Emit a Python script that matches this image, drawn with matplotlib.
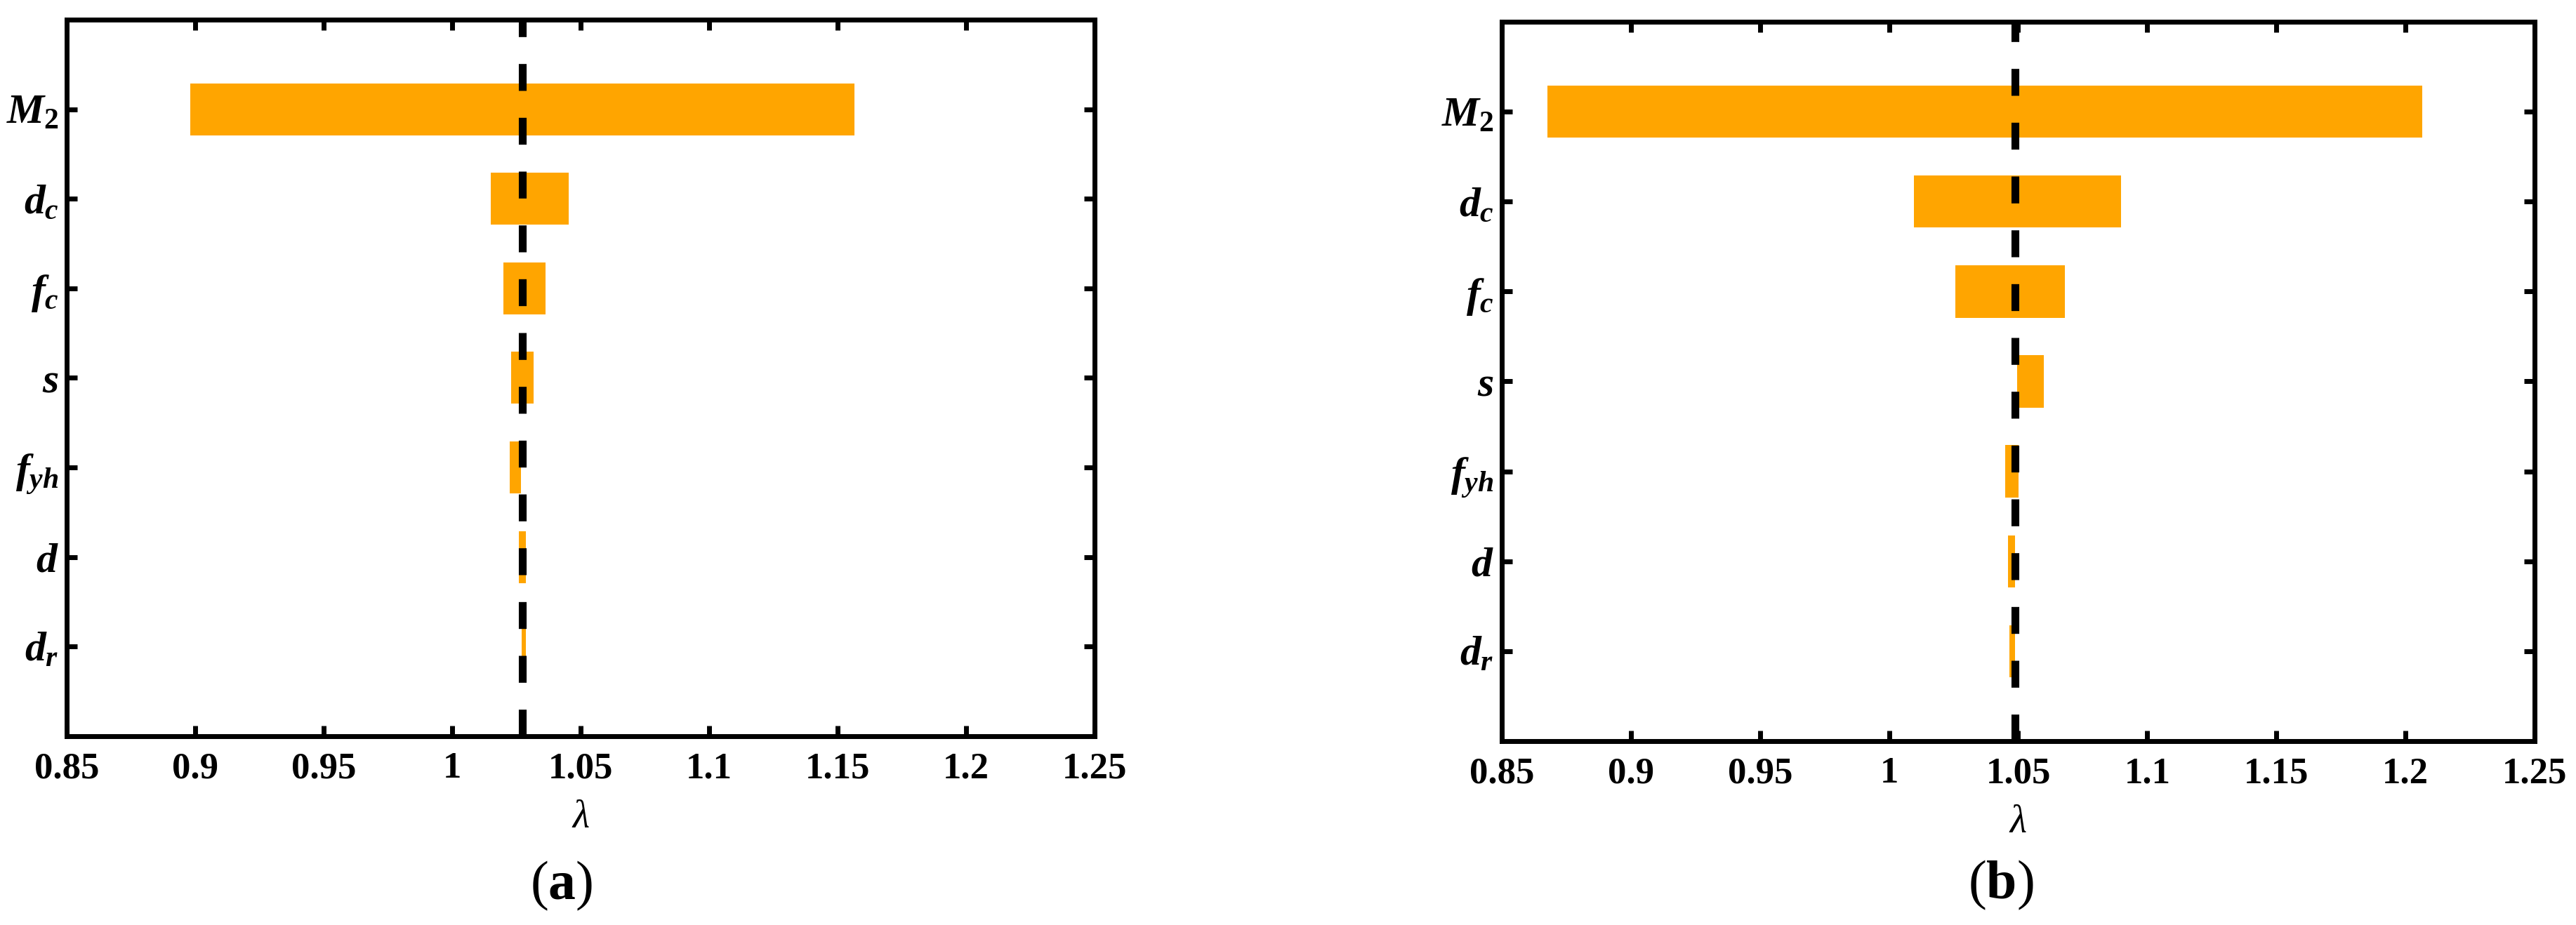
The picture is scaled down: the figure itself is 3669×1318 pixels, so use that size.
import numpy as np
import matplotlib
matplotlib.use("Agg")
import matplotlib.pyplot as plt

plt.rcParams['font.family'] = ['Liberation Serif', 'DejaVu Serif']
plt.rcParams['mathtext.fontset'] = 'custom'
plt.rcParams['mathtext.it'] = 'Liberation Serif:italic:bold'
plt.rcParams['mathtext.rm'] = 'Liberation Serif:bold'
plt.rcParams['mathtext.bf'] = 'Liberation Serif:bold'

# parametros (de cima para baixo)
params = [r'$M_2$', r'$d_c$', r'$f_c$', r'$s$', r'$f_{yh}$', r'$d$', r'$d_r$']

# (a) limites inferior / superior de lambda
low_a = [0.898, 1.0150, 1.0199, 1.0229, 1.0224, 1.0260, 1.0271]
high_a = [1.1566, 1.0454, 1.0363, 1.0317, 1.0268, 1.0287, 1.0287]
base_a = 1.0272

# (b)
low_b = [0.8676, 1.0096, 1.0256, 1.0496, 1.0449, 1.0460, 1.0465]
high_b = [1.2064, 1.0898, 1.0681, 1.0599, 1.0501, 1.0488, 1.0488]
base_b = 1.0488

xticks = [0.85, 0.9, 0.95, 1.0, 1.05, 1.1, 1.15, 1.2, 1.25]
xtick_labels = ['0.85', '0.9', '0.95', '1', '1.05', '1.1', '1.15', '1.2', '1.25']
captions = ['a', 'b']

fig = plt.figure(figsize=(36.69, 13.18), dpi=100)
ax1 = fig.add_axes([0.0259, 0.2041, 0.3990, 0.7747])
ax2 = fig.add_axes([0.5830, 0.1988, 0.4009, 0.7777])


def tornado(ax, low, high, base):
    pos = np.arange(1, len(params) + 1)
    low = np.array(low)
    high = np.array(high)
    ax.barh(pos, high - low, left=low, height=0.58, color='#FFA500', zorder=2)
    ax.axvline(base, color='k', lw=8, dashes=(3.45, 3.45),
               dash_capstyle='butt', zorder=3)
    ax.set_xlim(0.85, 1.25)
    ax.set_ylim(8, 0)
    ax.set_yticks(pos)
    ax.set_yticklabels(params)
    ax.set_xticks(xticks)
    ax.set_xticklabels(xtick_labels, fontweight='bold')
    ax.tick_params(direction='in', length=10.5, width=5, top=True, right=True,
                   labelsize=38, colors='k')
    ax.tick_params(axis='x', pad=16)
    ax.tick_params(axis='y', pad=8, labelsize=43)
    for sp in ax.spines.values():
        sp.set_linewidth(5)
        sp.set_zorder(4)
    ax.set_xlabel('λ', fontsize=40, fontstyle='italic', labelpad=14)


tornado(ax1, low_a, high_a, base_a)
tornado(ax2, low_b, high_b, base_b)

fig.text(800 / 3669, 0.0425, r'($\mathbf{%s}$)' % captions[0], fontsize=56,
         ha='center', va='center')
fig.text(2850 / 3669, 0.0432, r'($\mathbf{%s}$)' % captions[1], fontsize=56,
         ha='center', va='center')

fig.savefig('out.png', dpi=100)
